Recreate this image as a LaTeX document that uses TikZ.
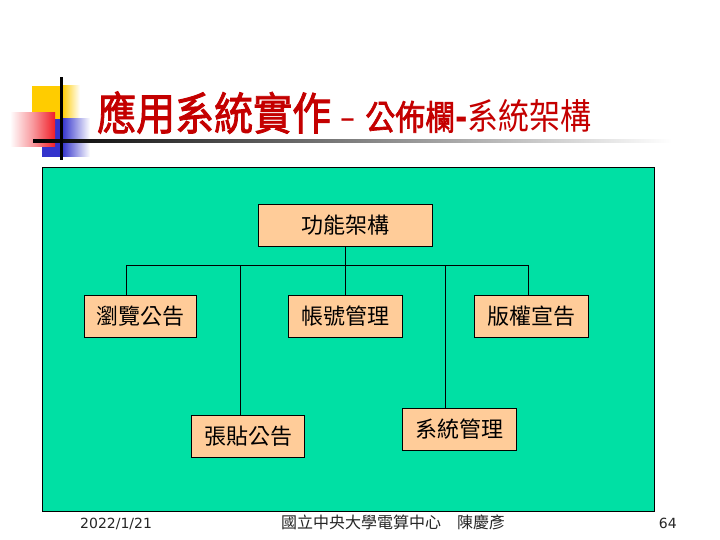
\documentclass[tikz,border=0pt]{standalone}
\usepackage{fontspec}
\setmainfont{DejaVu Sans}
\newfontfamily\cjk{Noto Sans CJK TC}
\newfontfamily\cjkb{Noto Sans CJK TC}[FakeBold=2]
\definecolor{bggreen}{RGB}{0,224,164}
\definecolor{peach}{RGB}{255,204,153}
\definecolor{titlered}{RGB}{196,0,0}
\definecolor{decoyellow}{RGB}{255,204,0}
\definecolor{decoblue}{RGB}{51,51,204}
\definecolor{decored}{RGB}{240,30,40}
\begin{document}
\begin{tikzpicture}[x=1pt,y=-1pt,
  box/.style={draw=black,line width=0.8pt,fill=peach,minimum height=42pt,inner sep=0pt,font=\cjk\fontsize{22}{24}\selectfont},
  conn/.style={draw=black,line width=0.8pt},
  foot/.style={font=\fontsize{14}{16}\selectfont,text=black!85}]
\useasboundingbox (0,0) rectangle (720,540);
\fill[white] (0,0) rectangle (720,540);
% decoration
\fill[decoyellow] (32,86) rectangle (62,120);
\shade[left color=decoyellow,right color=white] (62,86) rectangle (80,120);
\fill[decoblue] (42,119) rectangle (62,157);
\shade[left color=decoblue,right color=white] (62,119) rectangle (90,157);
\shade[left color=white,right color=decored,middle color=decored!45] (10,113) rectangle (55,147);
\shade[left color=black,right color=white] (33,139.5) rectangle (672,142.5);
\fill[black] (59.5,77) rectangle (62.5,160);
% title
\node[anchor=base west,inner sep=0pt,text=titlered] (title) at (97,130)
  {\scalebox{1}[1.15]{{\cjkb\fontsize{39}{42}\selectfont 應用系統實作}{\fontsize{30}{32}\selectfont\ –\ }{\cjkb\fontsize{30}{32}\selectfont 公佈欄}{\fontsize{30}{32}\selectfont\bfseries -}{\cjk\fontsize{31}{33}\selectfont 系統架構}}};
% panel
\draw[fill=bggreen,draw=black,line width=1pt] (42,168) rectangle (654,511);
% boxes
\node[box,minimum width=174pt] (top) at (345,225) {功能架構};
\node[box,minimum width=112pt] (browse) at (140,316) {瀏覽公告};
\node[box,minimum width=114pt] (account) at (345,316) {帳號管理};
\node[box,minimum width=114pt] (copy) at (531,316) {版權宣告};
\node[box,minimum width=113pt] (post) at (248,436) {張貼公告};
\node[box,minimum width=114pt] (sys) at (459,429) {系統管理};
% connectors
\draw[conn] (top.south) -- (account.north);
\draw[conn] (126,265) -- (528,265);
\draw[conn] (browse.north -| 126,0) -- (126,265);
\draw[conn] (post.north -| 240,0) -- (240,265);
\draw[conn] (sys.north -| 445,0) -- (445,265);
\draw[conn] (copy.north -| 528,0) -- (528,265);
% footer
\node[foot,anchor=base west,inner sep=0pt] (date) at (80,528) {2022/1/21};
\node[foot,anchor=base,inner sep=0pt] (org) at (393,528) {{\cjk\fontsize{16}{18}\selectfont 國立中央大學電算中心　陳慶彥}};
\node[foot,anchor=base east,inner sep=0pt] (page) at (677,528) {64};
\end{tikzpicture}
\end{document}
